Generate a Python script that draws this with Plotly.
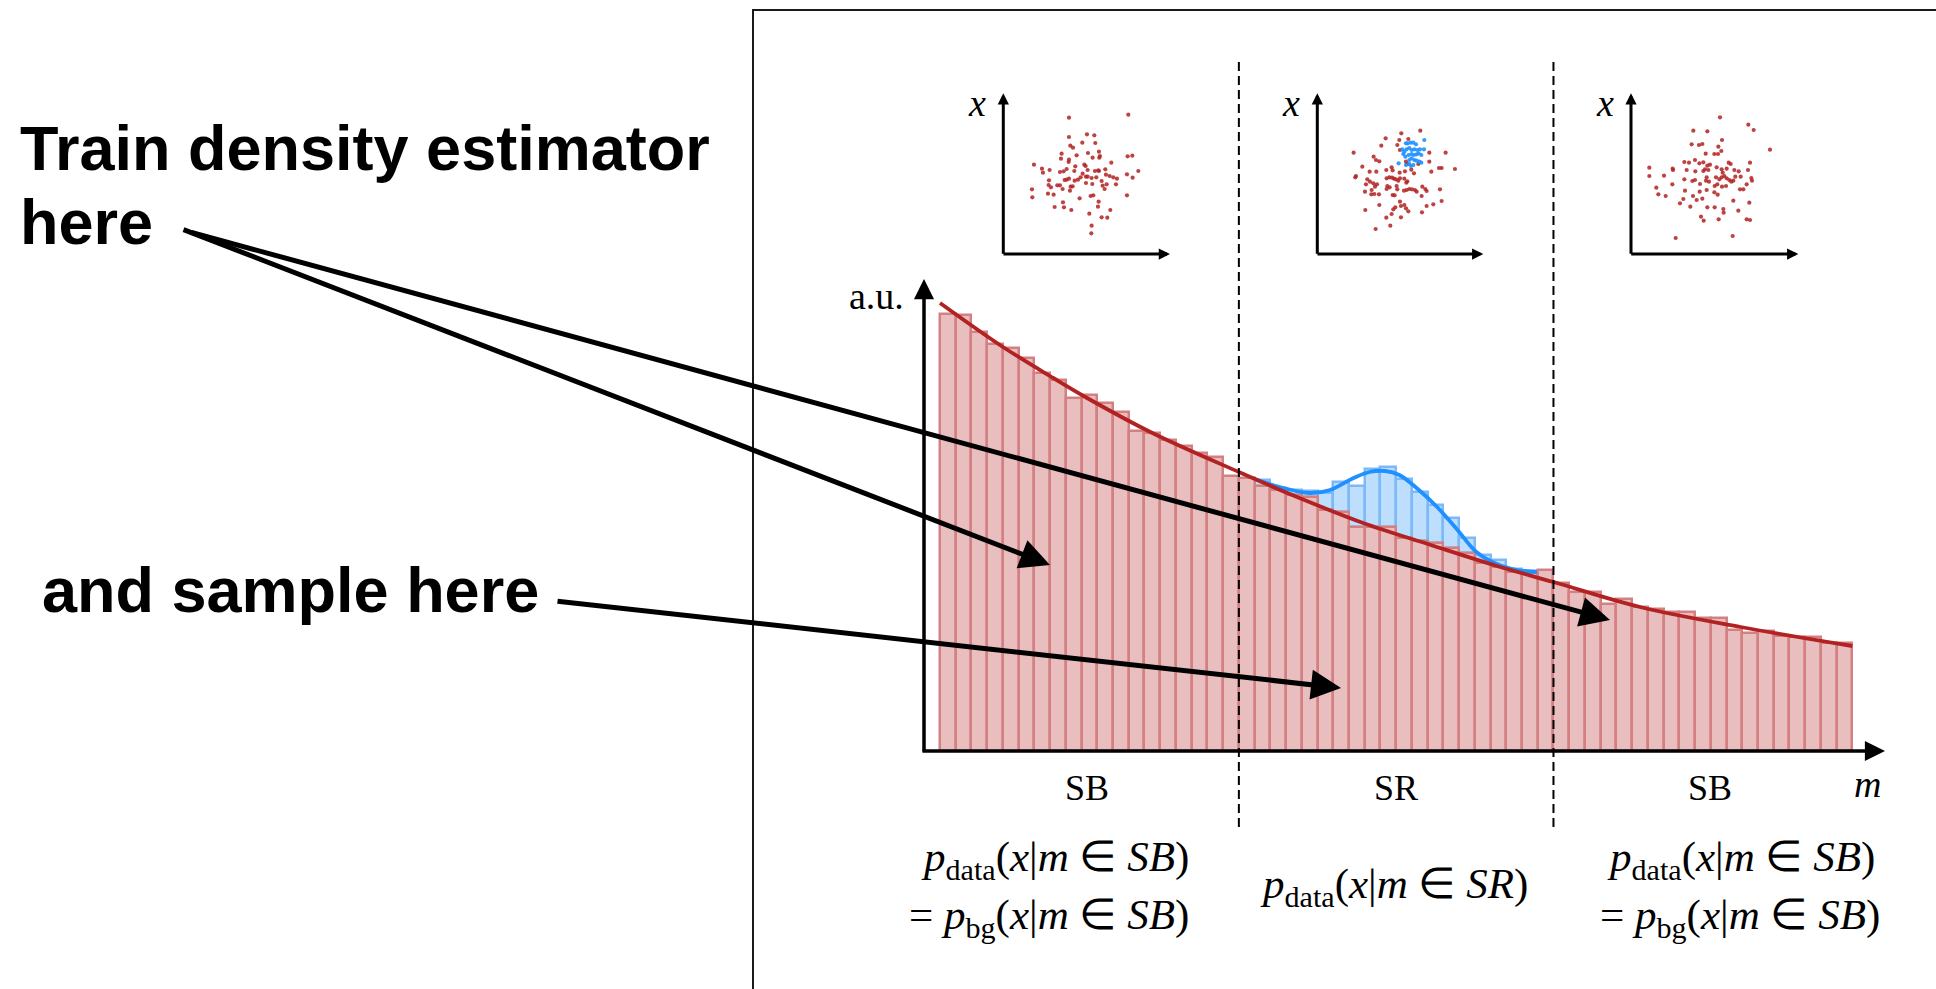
import plotly.graph_objects as go

W, H = 1936, 989


def px(x):
    return x / W


def py(y):
    return 1 - y / H


# ---------------- data ----------------
# background histogram (58 mass bins; SB = bins 0-18 and 39-57, SR = bins 19-38)
bg_counts = [437, 436, 419, 407, 403, 393, 378, 371, 353, 356, 348, 339, 320, 318, 311, 305, 298, 294, 275,
             273, 265, 261, 256, 254, 241, 239, 224, 224, 224, 213, 210, 208, 203, 198, 188, 184, 179, 178, 181,
             168, 159, 159, 147, 152, 144, 142, 139, 139, 133, 133, 121, 118, 120, 115, 114, 114, 108, 108]
# signal counts stacked on the background inside SR (bins 19-38)
sig_counts = [0, 6, 2, 5, 6, 17, 30, 41, 58, 60, 59, 49, 38, 30, 15, 8, 7, 3, 2, 0]
sr_lo, sr_hi = 19, 39

# fitted background curve (m in bin units, a.u.)
bg_curve_m = [0.0, 4.0, 7.2, 9.35, 13.5, 19.0, 22.7, 26.9, 31.2, 35.4, 39.0, 44.5, 50.9, 58.0]
bg_curve_y = [448, 404, 373, 353, 318, 279, 254, 228, 206, 185, 169, 144, 124, 105]
# background + signal curve
tot_curve_m = [20.0, 21.6, 23.5, 24.8, 26.3, 27.3, 28.3, 29.2, 30.3, 31.6, 32.9, 34.1, 35.4, 36.7, 37.95]
tot_curve_y = [272, 264, 258, 261, 273, 279, 280, 276, 263, 244, 221, 199, 187, 181, 179]

# inset scatter samples (feature plane, arbitrary units)
u1 = [357, 535, 357, 411, 433, 397, 436, 361, 369, 380, 414, 447, 335, 333, 357, 356, 428, 448, 450, 533,
      547, 484, 252, 276, 299, 279, 330, 341, 350, 376, 373, 403, 407, 413, 398, 435, 445, 447, 466, 468,
      479, 490, 501, 531, 565, 548, 297, 296, 303, 344, 350, 357, 374, 384, 392, 408, 413, 425, 439, 455,
      470, 458, 464, 498, 322, 330, 338, 362, 368, 408, 427, 246, 247, 294, 311, 360, 389, 422, 430, 446,
      444, 531, 339, 314, 342, 364, 418, 481, 455, 472, 425, 424]
v1 = [83, 74, 141, 133, 136, 158, 159, 167, 173, 196, 189, 185, 191, 206, 209, 216, 203, 203, 198, 199,
      197, 218, 224, 236, 240, 248, 246, 244, 237, 229, 243, 224, 228, 240, 251, 243, 241, 243, 238, 254,
      258, 262, 266, 253, 243, 263, 271, 285, 292, 270, 269, 266, 272, 269, 262, 260, 260, 264, 262, 273,
      283, 287, 297, 283, 286, 286, 297, 290, 289, 279, 282, 298, 322, 311, 314, 302, 325, 318, 316, 335,
      350, 316, 337, 351, 352, 360, 371, 360, 382, 383, 407, 430]

u2_bg = [481, 424, 445, 377, 364, 418, 412, 420, 281, 341, 348, 358, 307, 329, 349, 288, 286, 322, 318, 330,
         340, 345, 351, 335, 334, 343, 357, 315, 379, 395, 398, 380, 388, 396, 402, 408, 415, 420, 433, 439,
         442, 382, 389, 380, 410, 412, 432, 440, 448, 456, 465, 470, 487, 496, 500, 404, 398, 420, 423, 433,
         438, 445, 485, 540, 545, 520, 500, 486, 358, 316, 406, 400, 395, 379, 423, 391, 347, 419, 435, 454,
         462, 438, 442, 508, 508, 514, 537, 545, 585, 557, 475]
v2_bg = [122, 130, 147, 145, 167, 150, 165, 180, 188, 200, 210, 214, 230, 245, 245, 258, 262, 268, 283, 275,
         280, 290, 283, 300, 313, 312, 313, 305, 240, 232, 241, 265, 262, 263, 266, 268, 272, 265, 266, 278,
         274, 288, 292, 297, 288, 298, 302, 300, 297, 298, 300, 305, 290, 297, 303, 316, 315, 335, 348, 345,
         355, 364, 318, 298, 333, 343, 348, 367, 345, 360, 352, 358, 372, 383, 382, 407, 417, 248, 244, 239,
         250, 215, 222, 188, 215, 245, 234, 234, 237, 188, 222]
u2_sig = [438, 443, 452, 460, 468, 427, 433, 440, 448, 455, 463, 472, 480, 492, 493, 430, 436, 446, 455, 462,
          470, 476, 484, 448, 455, 463, 470, 478, 484, 416, 438, 448, 453, 460]
v2_sig = [160, 160, 158, 158, 163, 178, 185, 178, 174, 180, 178, 180, 178, 178, 150, 192, 200, 195, 192, 195,
          193, 190, 195, 210, 205, 210, 212, 215, 218, 220, 225, 222, 228, 225]

u3 = [450, 535, 551, 370, 412, 456, 365, 387, 397, 445, 454, 600, 407, 433, 444, 343, 357, 375, 388, 400,
      412, 420, 476, 482, 540, 238, 238, 282, 308, 309, 350, 376, 400, 405, 415, 440, 455, 458, 470, 493,
      506, 534, 307, 343, 367, 375, 390, 410, 408, 417, 438, 448, 455, 463, 470, 478, 484, 490, 496, 512,
      530, 544, 546, 259, 265, 287, 345, 389, 410, 434, 442, 456, 468, 510, 520, 369, 380, 397, 330, 340,
      433, 443, 361, 412, 434, 460, 461, 490, 505, 538, 393, 401, 446, 530, 540, 317, 488]
v3 = [82, 104, 120, 122, 124, 150, 163, 165, 162, 170, 183, 179, 191, 192, 192, 216, 218, 210, 220, 217,
      227, 224, 218, 222, 218, 233, 258, 257, 236, 240, 240, 244, 243, 238, 240, 232, 238, 248, 236, 240,
      244, 240, 283, 268, 273, 270, 282, 262, 272, 275, 262, 268, 262, 258, 265, 270, 275, 272, 260, 260,
      283, 264, 272, 293, 313, 318, 302, 305, 300, 288, 283, 290, 288, 298, 298, 318, 330, 326, 340, 327,
      307, 314, 350, 352, 352, 357, 368, 332, 362, 338, 380, 392, 388, 388, 390, 444, 438]

region_labels = ["SB", "SR", "SB"]

# ---------------- styling ----------------
RED = "rgb(178,34,34)"
BLUE = "rgb(30,144,255)"
SERIF = "Liberation Serif"
SANS = "Liberation Sans"

fig = go.Figure()

centers = [k + 0.5 for k in range(len(bg_counts))]
sr_c = centers[sr_lo:sr_hi]
sr_bg = bg_counts[sr_lo:sr_hi]
sel = [i for i, s in enumerate(sig_counts) if s > 0]

# signal bars stacked on background
fig.add_bar(x=[sr_c[i] for i in sel], y=[sig_counts[i] for i in sel], base=[sr_bg[i] for i in sel],
            width=1, marker=dict(color="rgb(190,222,253)", line=dict(color="rgb(125,185,248)", width=2.5)),
            xaxis="x", yaxis="y")
# background bars
fig.add_bar(x=centers, y=bg_counts, width=1,
            marker=dict(color="rgb(232,190,191)", line=dict(color="rgb(212,128,131)", width=2.5)),
            xaxis="x", yaxis="y")
# curves
fig.add_scatter(x=tot_curve_m, y=tot_curve_y, mode="lines", line=dict(color=BLUE, width=3.8, shape="spline"),
                xaxis="x", yaxis="y")
fig.add_scatter(x=bg_curve_m, y=bg_curve_y, mode="lines", line=dict(color=RED, width=3.8, shape="spline"),
                xaxis="x", yaxis="y")

# inset scatters
mk_r = dict(color="rgba(178,34,34,0.85)", size=4.2)
mk_b = dict(color="rgba(30,144,255,0.9)", size=4.2)
fig.add_scatter(x=u1, y=v1, mode="markers", marker=mk_r, xaxis="x2", yaxis="y2", cliponaxis=False)
fig.add_scatter(x=u2_bg, y=v2_bg, mode="markers", marker=mk_r, xaxis="x3", yaxis="y3", cliponaxis=False)
fig.add_scatter(x=u2_sig, y=v2_sig, mode="markers", marker=mk_b, xaxis="x3", yaxis="y3", cliponaxis=False)
fig.add_scatter(x=u3, y=v3, mode="markers", marker=mk_r, xaxis="x4", yaxis="y4", cliponaxis=False)

# ---------------- axes ----------------
bin_px, x0_px = 15.73, 940.0
hid = dict(visible=False, showgrid=False, zeroline=False)
layout_axes = dict(
    xaxis=dict(domain=[px(924), px(1885)], range=[(924 - x0_px) / bin_px, (1885 - x0_px) / bin_px], **hid),
    yaxis=dict(domain=[py(751), py(279)], range=[0, 751 - 279], **hid),
)
insets = [(1003.3, 160, 660), (1317.3, 172, 670), (1631.0, 183, 685)]
for i, (ox, u0, u1_) in enumerate(insets, start=2):
    layout_axes[f"xaxis{i}"] = dict(domain=[px(ox), px(ox + (u1_ - u0) / 3)], range=[u0, u1_],
                                    anchor=f"y{i}", **hid)
    layout_axes[f"yaxis{i}"] = dict(domain=[py(254), py(254 - 482 / 3)], range=[492, 10],
                                    anchor=f"x{i}", **hid)

annotations = []
shapes = []

# inset axis arrows + x labels
for i, (ox, u0, u1_) in enumerate(insets, start=2):
    annotations.append(dict(xref=f"x{i}", yref=f"y{i}", axref=f"x{i}", ayref=f"y{i}",
                            x=u1_, y=492, ax=u0 - 4, ay=492, text="", showarrow=True,
                            arrowhead=2, arrowsize=0.75, arrowwidth=3, arrowcolor="black"))
    annotations.append(dict(xref=f"x{i}", yref=f"y{i}", axref=f"x{i}", ayref=f"y{i}",
                            x=u0, y=10, ax=u0, ay=496, text="", showarrow=True,
                            arrowhead=2, arrowsize=0.75, arrowwidth=3, arrowcolor="black"))
    annotations.append(dict(xref="paper", yref="paper", x=px(ox - 26), y=py(103), text="<i>x</i>",
                            showarrow=False, font=dict(family=SERIF, size=38, color="black"),
                            xanchor="center", yanchor="middle"))

# main axis arrows
annotations.append(dict(xref="paper", yref="paper", x=px(924), y=py(279), ax=0, ay=474, text="",
                        showarrow=True, arrowhead=2, arrowsize=1.15, arrowwidth=3.5, arrowcolor="black"))
annotations.append(dict(xref="paper", yref="paper", x=px(1885), y=py(751), ax=-964, ay=0, text="",
                        showarrow=True, arrowhead=2, arrowsize=1.15, arrowwidth=3.5, arrowcolor="black"))

# big pointer arrows
for (hx, hy, tx, ty) in [(1050, 565, 182, 229), (1610, 620, 190, 232), (1341, 688, 556, 601)]:
    annotations.append(dict(xref="paper", yref="paper", x=px(hx), y=py(hy), ax=tx - hx, ay=ty - hy, text="",
                            showarrow=True, arrowhead=2, arrowsize=1.2, arrowwidth=5, arrowcolor="black"))

# region dashed separators
for xb in (sr_lo, sr_hi):
    shapes.append(dict(type="line", xref="x", yref="paper", x0=xb, x1=xb, y0=py(827), y1=py(62),
                       line=dict(color="black", width=2, dash="9px,5px")))

# frame
shapes.append(dict(type="rect", xref="paper", yref="paper", x0=px(753), x1=1.05, y0=-0.05, y1=py(10),
                   line=dict(color="#1a1a1a", width=2), layer="below"))


# labels
def txt(x, y, s, size, family=SERIF, anchor="center"):
    annotations.append(dict(xref="paper", yref="paper", x=px(x), y=py(y), text=s, showarrow=False,
                            font=dict(family=family, size=size, color="black"),
                            xanchor=anchor, yanchor="middle"))


for (xc, lab) in zip([1087, 1396, 1710], region_labels):
    txt(xc, 788, lab, 36)
txt(1867, 784, "<i>m</i>", 38)
txt(876, 296, "a.u.", 38)

f1 = "<i>p</i><sub>data</sub>(<i>x</i>|<i>m</i> ∈ <i>SB</i>)"
f2 = "= <i>p</i><sub>bg</sub>(<i>x</i>|<i>m</i> ∈ <i>SB</i>)"
f3 = "<i>p</i><sub>data</sub>(<i>x</i>|<i>m</i> ∈ <i>SR</i>)"
FS = 43
txt(1055, 860, f1, FS)
txt(1049, 918, f2, FS)
txt(1394, 887, f3, FS)
txt(1741, 860, f1, FS)
txt(1740, 918, f2, FS)

txt(18, 148, "<b>Train density estimator</b>", 63, SANS, "left")
txt(18, 222, "<b>here</b>", 63, SANS, "left")
txt(40, 590, "<b>and sample here</b>", 63, SANS, "left")

fig.update_layout(
    width=W, height=H, margin=dict(l=0, r=0, t=0, b=0),
    paper_bgcolor="white", plot_bgcolor="white",
    showlegend=False, barmode="overlay", bargap=0,
    annotations=annotations, shapes=shapes,
    **layout_axes,
)

fig.write_html("out.html")
